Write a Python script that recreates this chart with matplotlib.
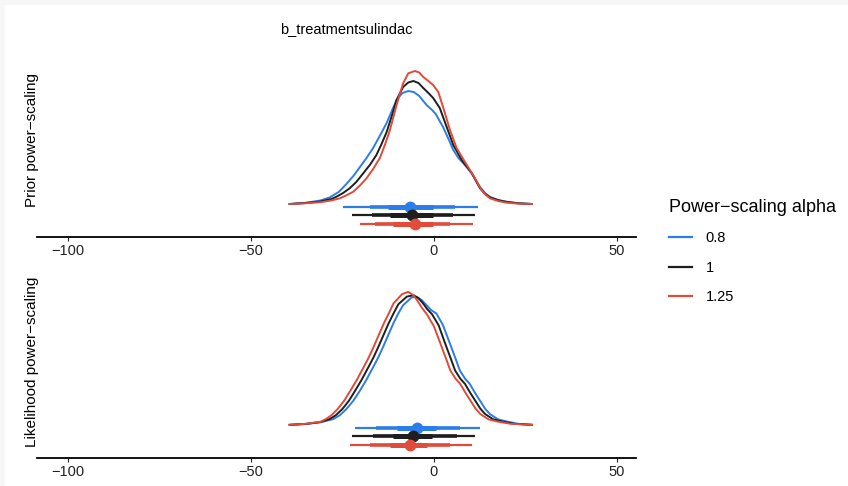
import matplotlib
matplotlib.use("Agg")
import matplotlib.pyplot as plt
from matplotlib.lines import Line2D
from matplotlib.patches import Rectangle

plt.rcParams['font.family'] = ['Liberation Sans', 'DejaVu Sans']

alphas = ['0.8', '1', '1.25']
colors = ['#2b7de9', '#1e1e1e', '#e04b3a']

# densities (scaled heights), prior panel
prior_x = [
    [-39.4, -35, -31, -28.5, -26, -23.9, -22, -20.2, -18.4, -16.6, -14.8, -12.9, -11.5, -10.2, -8.6, -7.0, -5.5,
     -4.0, -2.0, -0.5, 0.5, 2.5, 4.0, 5.3, 6.7, 8.0, 10.3, 12.6, 14.0, 15.3, 17.5, 19.9, 23.0, 26.8],
    [-39.4, -35, -31, -28, -26.6, -24.8, -23.0, -21.2, -19.3, -17.5, -15.7, -14.3, -12.9, -11.5, -10.2, -8.4, -7.0,
     -5.6, -4.2, -2.9, -1.5, -0.2, 1.6, 3.5, 5.3, 7.6, 10.3, 12.6, 14.0, 15.3, 17.5, 19.9, 23.0, 26.8],
    [-39.4, -35, -31, -28, -25.7, -24, -22.0, -20.2, -18.4, -16.6, -14.8, -13.4, -12.0, -10.2, -8.4, -7.0, -5.2,
     -4.0, -2.9, -1.5, -0.2, 1.2, 2.5, 4.4, 6.2, 8.5, 10.7, 13.0, 14.2, 15.3, 17.5, 19.9, 23.0, 26.8],
]
prior_h = [
    [0, 1.2, 3.5, 6.5, 12, 20, 28, 37, 46, 56, 68, 81, 93, 104, 111, 113, 112,
     108, 99, 94, 90, 77, 65, 54, 46, 41, 31, 17, 11, 7, 4, 2.3, 0.8, 0],
    [0, 1, 2.5, 5, 7.3, 11, 15.7, 22, 30.7, 39, 49, 60, 72, 88, 104, 117, 121.5,
     123, 121, 116, 111, 106, 96, 77, 59, 44, 31, 15.7, 10, 6.7, 3.8, 2, 0.7, 0],
    [0, 0.7, 1.8, 3.5, 5.7, 8.5, 12.3, 18.5, 25.7, 35, 45.7, 59, 74, 99, 120.7, 130.7, 133,
     131.5, 127, 123, 119, 112, 97, 74, 56, 42, 29, 14, 9, 5.7, 3, 1.3, 0.4, 0],
]

# likelihood panel
lik_x = [
    [-39.4, -35, -31, -27.5, -25.7, -23.9, -22.0, -20.2, -18.4, -16.6, -15.2, -13.9, -12.5, -11.1, -9.7, -8.4,
     -6.1, -4.7, -3.3, -2.0, -0.7, 0.7, 2.5, 4.4, 5.8, 7.1, 8.5, 9.8, 11.2, 12.6, 14.0, 15.3, 17.5, 19.9, 23.0, 26.8],
    [-39.4, -35, -31, -28.5, -26.8, -25.0, -23.2, -21.5, -19.7, -17.9, -16.5, -15.2, -13.8, -12.4, -11.0, -9.7,
     -7.4, -5.6, -4.2, -3.0, -1.8, -0.5, 1.3, 3.1, 4.5, 5.8, 7.2, 8.5, 9.9, 11.3, 12.7, 14.0, 16.2, 18.6, 22.0, 26.8],
    [-39.4, -35, -31, -29.5, -28.0, -26.3, -24.5, -22.8, -21.0, -19.2, -17.8, -16.5, -15.1, -13.7, -12.3, -11.0,
     -8.7, -7.0, -5.6, -4.4, -3.2, -1.9, 0.0, 1.8, 3.2, 4.5, 5.9, 7.2, 8.6, 10.0, 11.4, 12.7, 14.9, 17.3, 21.0, 26.8],
]
lik_h = [
    [0, 0.8, 2.5, 5.7, 9.5, 15.7, 24, 34, 45, 57.3, 67, 77.3, 89, 100.7, 111, 119,
     126.7, 127.3, 124, 119, 114, 110.7, 99, 80.7, 67, 54, 46, 40.7, 32, 24, 16, 10.7, 5.5, 3.3, 1, 0],
    [0, 0.9, 2.8, 5.7, 9.5, 15.7, 24, 34, 45, 57.3, 67, 77.3, 89, 100.7, 111, 120,
     127.5, 129, 126, 121, 115, 110, 99, 80.7, 67, 54, 46, 40.7, 32, 24, 16, 10.7, 5.5, 3.3, 1, 0],
    [0, 1.0, 3.0, 5.7, 9.5, 15.7, 24, 34, 45, 57.3, 67, 77.3, 89, 100.7, 111, 121,
     130, 132.3, 129, 123, 116, 110, 98, 80.7, 67, 54, 46, 40.7, 32, 24, 16, 10.7, 5.5, 3.3, 1, 0],
]

# point intervals: (lo95, hi95), (lo80, hi80), (lo50, hi50), median
prior_iv = [
    [(-24.8, 12.0), (-17.5, 5.7), (-12.5, -0.3), -6.6],
    [(-22.5, 11.2), (-17.0, 5.2), (-12.0, -0.3), -6.1],
    [(-20.2, 10.7), (-16.1, 4.4), (-11.1, -0.2), -5.2],
]
lik_iv = [
    [(-21.6, 12.6), (-15.7, 7.1), (-10.2, 0.7), -4.7],
    [(-22.5, 11.2), (-16.6, 6.2), (-11.1, -0.6), -5.6],
    [(-23.0, 10.3), (-17.5, 4.4), (-12.0, -2.0), -6.6],
]

xticks = [-100, -50, 0, 50]
xticklabels = ['\u2212100', '\u221250', '0', '50']

W, H = 848, 486
fig = plt.figure(figsize=(W / 100, H / 100), dpi=100)
fig.patch.set_facecolor('#f7f7f7')
fig.add_artist(Rectangle((5 / W, 0), 1, (H - 5) / H, transform=fig.transFigure,
                         facecolor='white', edgecolor='none', zorder=-10))

left, width = 37 / W, (636 - 37) / W
ax1 = fig.add_axes([left, (H - 237) / H, width, 192 / H])
ax2 = fig.add_axes([left, (H - 458) / H, width, 193 / H])

base = 33
row_y = [30, 22, 13]

for ax, xs, hs, ivs, lab, ly in [(ax1, prior_x, prior_h, prior_iv, 'Prior power\u2212scaling', 140),
                                 (ax2, lik_x, lik_h, lik_iv, 'Likelihood power\u2212scaling', 362)]:
    ax.set_facecolor('none')
    for i in range(3):
        ax.plot(xs[i], [base + h for h in hs[i]], color=colors[i], lw=1.4, zorder=2,
                solid_joinstyle='round')
    for i in range(3):
        y = row_y[i]
        (l95, h95), (l80, h80), (l50, h50), med = ivs[i]
        ax.plot([l95, h95], [y, y], color=colors[i], lw=1.6, solid_capstyle='butt', zorder=3)
        ax.plot([l80, h80], [y, y], color=colors[i], lw=2.6, solid_capstyle='butt', zorder=3)
        ax.plot([l50, h50], [y, y], color=colors[i], lw=3.6, solid_capstyle='butt', zorder=3)
        ax.plot([med], [y], 'o', color=colors[i], ms=8.5, mec='none', zorder=4)
    ax.set_xlim(-108.4, 55.2)
    ax.set_ylim(0, 192)
    for s in ['top', 'right', 'left']:
        ax.spines[s].set_visible(False)
    ax.spines['bottom'].set_linewidth(1.3)
    ax.set_yticks([])
    ax.set_xticks(xticks)
    ax.set_xticklabels(xticklabels)
    ax.tick_params(axis='x', length=3, width=0.8, labelsize=10.5, pad=2, colors='#222222')
    fig.text(32 / W, 1 - ly / H, lab, rotation=90, ha='center', va='center', fontsize=11)

fig.text(346 / W, 1 - 29 / H, 'b_treatmentsulindac', ha='center', va='center', fontsize=10.5)

handles = [Line2D([], [], color=c, lw=1.6) for c in colors]
fig.legend(handles, alphas, title='Power\u2212scaling alpha', loc='upper left',
           bbox_to_anchor=(656 / W, 1 - 186 / H), frameon=False, fontsize=10.5,
           title_fontsize=13, handlelength=1.6, handletextpad=0.9, labelspacing=1.05,
           alignment='left')

fig.savefig('out.png', dpi=100, facecolor=fig.get_facecolor())
